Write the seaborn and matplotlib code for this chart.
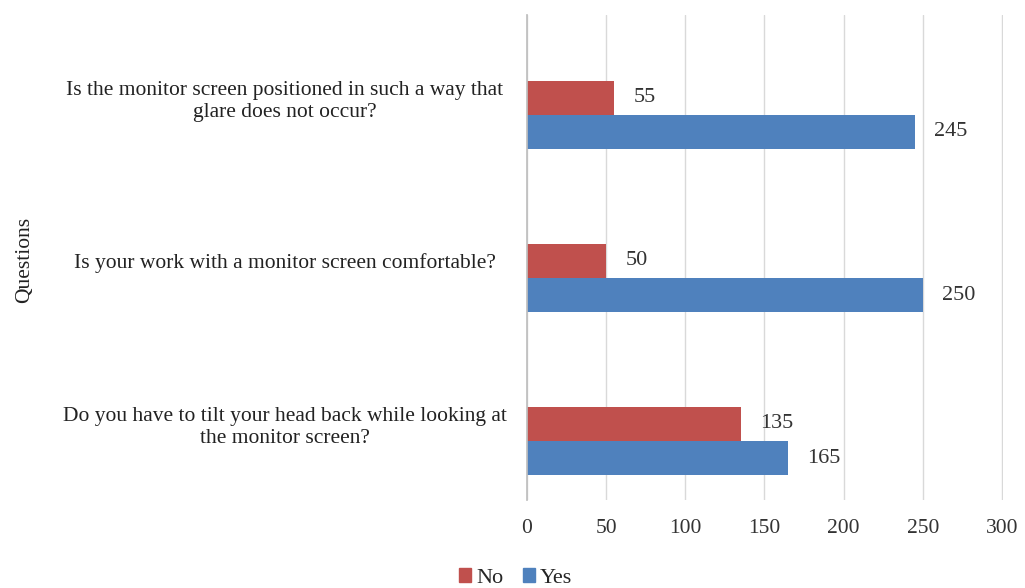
import matplotlib
matplotlib.use("Agg")
import matplotlib.pyplot as plt
import seaborn as sns
import pandas as pd

questions = [
    "Is the monitor screen positioned in such a way that\nglare does not occur?",
    "Is your work with a monitor screen comfortable?",
    "Do you have to tilt your head back while looking at\nthe monitor screen?",
]
no_values = [55, 50, 135]
yes_values = [245, 250, 165]
series = ["No", "Yes"]
colors = ["#C0504D", "#4F81BD"]
xticks = [0, 50, 100, 150, 200, 250, 300]

df = pd.DataFrame({
    "Question": questions * 2,
    "Answer": ["No"] * 3 + ["Yes"] * 3,
    "Count": no_values + yes_values,
})

sns.set_theme(style="white")
plt.rcParams["font.family"] = ["Liberation Serif", "DejaVu Serif"]

fig = plt.figure(figsize=(10.25, 5.88), dpi=100)
ax = fig.add_axes([0.514, 0.150, 0.465, 0.824])

sns.barplot(data=df, y="Question", x="Count", hue="Answer", hue_order=series,
            order=questions, palette=colors, orient="h", width=0.42,
            saturation=1, ax=ax, legend=True, linewidth=0)

for cont in ax.containers:
    ax.bar_label(cont, padding=14, fontsize=16, color="#333333")

ax.set_xlim(0, 301)
ax.set_ylim(2.36, -0.61)
ax.set_xticks(xticks)
ax.set_xticklabels([str(t) for t in xticks], fontsize=15.5, color="#333333")
# category labels sit level with the upper (No) bar of each group
ax.set_yticks([i - 0.105 for i in range(len(questions))], labels=questions)
ax.tick_params(axis="y", labelsize=15.5, colors="#222222", length=0, pad=18)
ax.tick_params(axis="x", length=0, pad=14)
for lbl in ax.get_yticklabels():
    lbl.set_horizontalalignment("center")
    lbl.set_linespacing(1.2)
    lbl.set_x(-0.455)
ax.xaxis.grid(True, color="#D9D9D9", linewidth=1)
ax.set_axisbelow(True)
for s in ["top", "right", "bottom"]:
    ax.spines[s].set_visible(False)
ax.spines["left"].set_color("#BFBFBF")
ax.set_xlabel("")
ax.set_ylabel("")
fig.text(0.024, 0.558, "Questions", rotation=90, fontsize=15.5, va="center", ha="center", color="#222222")

ax.legend_.remove()
handles = [plt.Rectangle((0, 0), 1, 1, color=c) for c in colors]
fig.legend(handles, series, loc="center", bbox_to_anchor=(0.503, 0.017), ncol=2,
           frameon=False, fontsize=16, handlelength=0.55, handleheight=0.55,
           handletextpad=0.2, columnspacing=0.9)

fig.savefig("out.png", dpi=100)
